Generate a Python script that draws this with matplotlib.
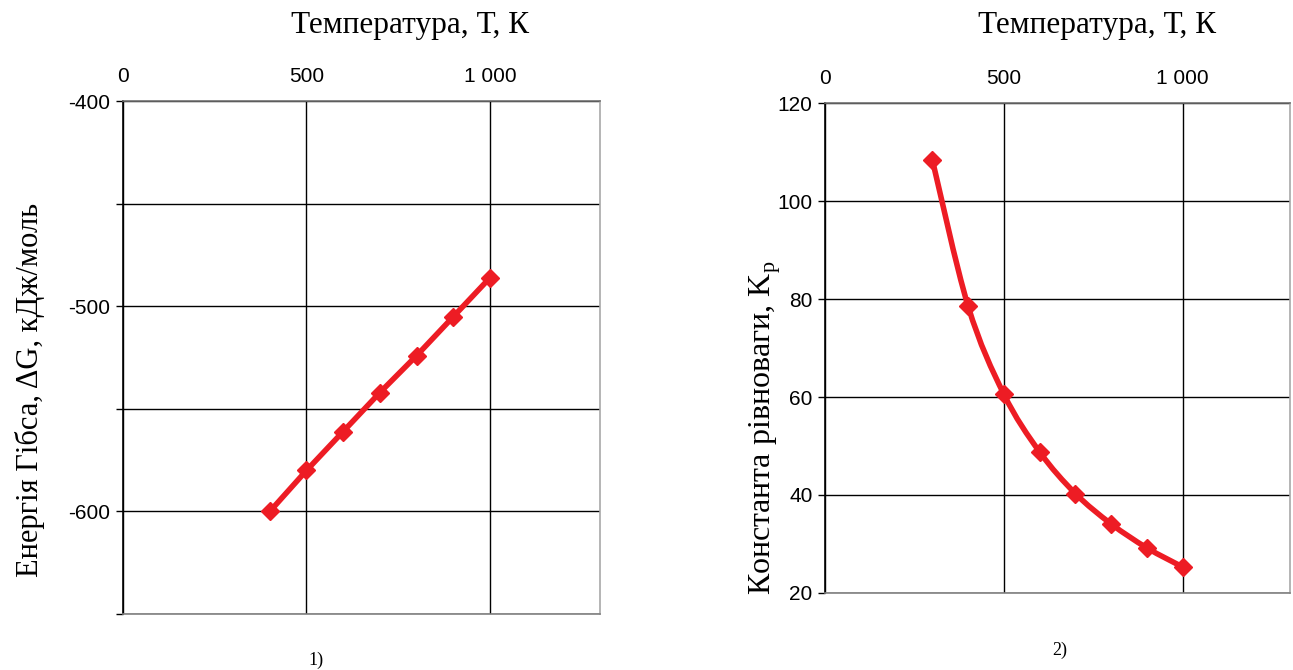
import matplotlib
matplotlib.use("Agg")
import matplotlib.pyplot as plt
from matplotlib.path import Path
from matplotlib.patches import PathPatch
from matplotlib.ticker import FixedLocator, FuncFormatter
import numpy as np

# Gibbs energy vs temperature
temp_g = [400, 500, 600, 700, 800, 900, 1000]
gibbs = [-600, -580, -561, -542, -524, -505, -486]

# equilibrium constant vs temperature
temp_k = [300, 400, 500, 600, 700, 800, 900, 1000]
kp = [108.5, 78.6, 60.6, 48.8, 40.3, 34.1, 29.2, 25.3]

x_title = "Температура, Т, К"
y_title_1 = "Енергія Гібса, ΔG, кДж/моль"
y_title_2 = "Константа рівноваги, K$_\\mathregular{р}$"

RED = "#ed1c24"
SERIF = "Liberation Serif"
SANS = "Liberation Sans"


def thousands(v, pos):
    return "{:,.0f}".format(v).replace(",", " ")


def smooth_path(xs, ys):
    # Catmull-Rom spline converted to cubic bezier segments
    p = np.column_stack([xs, ys]).astype(float)
    ext = np.vstack([p[0], p, p[-1]])
    verts = [p[0]]
    codes = [Path.MOVETO]
    for i in range(len(p) - 1):
        p0, p1, p2, p3 = ext[i], ext[i + 1], ext[i + 2], ext[i + 3]
        verts += [p1 + (p2 - p0) / 6, p2 - (p3 - p1) / 6, p2]
        codes += [Path.CURVE4] * 3
    return Path(verts, codes)


def style_axes(ax, yticks, ylabels):
    ax.set_xlim(0, 1300)
    ax.xaxis.tick_top()
    ax.xaxis.set_major_locator(FixedLocator([0, 500, 1000]))
    ax.xaxis.set_major_formatter(FuncFormatter(thousands))
    ax.yaxis.set_major_locator(FixedLocator(yticks))
    ax.yaxis.set_major_formatter(
        FuncFormatter(lambda v, pos: str(int(v)) if int(v) in ylabels else "")
    )
    ax.tick_params(axis="x", length=0, pad=11, labelsize=15)
    ax.tick_params(axis="y", length=5, width=1, pad=4, labelsize=15)
    for lab in ax.get_xticklabels() + ax.get_yticklabels():
        lab.set_fontfamily(SANS)
    ax.grid(True, color="black", lw=1)
    ax.set_axisbelow(True)
    ax.spines["left"].set_color("black")
    ax.spines["top"].set_color("#707070")
    ax.spines["right"].set_color("#a8a8a8")
    ax.spines["bottom"].set_color("#808080")
    for s in ax.spines.values():
        s.set_linewidth(1.2)


fig = plt.figure(figsize=(12.93, 6.70), dpi=100)

ax1 = fig.add_axes([0.0951, 0.0836, 0.369, 0.765])
ax1.set_ylim(-650, -400)
style_axes(ax1, list(range(-650, -399, 50)), [-400, -500, -600])
ax1.plot(temp_g, gibbs, color=RED, lw=4, marker="D", ms=9,
         solid_capstyle="round", zorder=3)

ax2 = fig.add_axes([0.638, 0.115, 0.3597, 0.731])
ax2.set_ylim(20, 120)
style_axes(ax2, list(range(20, 121, 20)), list(range(20, 121, 20)))
ax2.add_patch(PathPatch(smooth_path(temp_k, kp), fill=False, edgecolor=RED,
                        lw=4, capstyle="round", zorder=3))
ax2.plot(temp_k, kp, linestyle="none", color=RED, marker="D", ms=9, zorder=4)

fig.text(410 / 1293, 1 - 25 / 670, x_title, ha="center", va="center",
         fontsize=22.5, family=SERIF)
fig.text(1097 / 1293, 1 - 25 / 670, x_title, ha="center", va="center",
         fontsize=22.5, family=SERIF)
fig.text(30 / 1293, 1 - 390 / 670, y_title_1, ha="center", va="center",
         rotation=90, fontsize=22, family=SERIF)
fig.text(765 / 1293, 1 - 428 / 670, y_title_2, ha="center", va="center",
         rotation=90, fontsize=23, family=SERIF)
fig.text(316 / 1293, 1 - 660 / 670, "1)", ha="center", va="center",
         fontsize=13, family=SERIF)
fig.text(1060 / 1293, 1 - 650 / 670, "2)", ha="center", va="center",
         fontsize=13, family=SERIF)

fig.savefig("out.png", dpi=100, facecolor="white")
